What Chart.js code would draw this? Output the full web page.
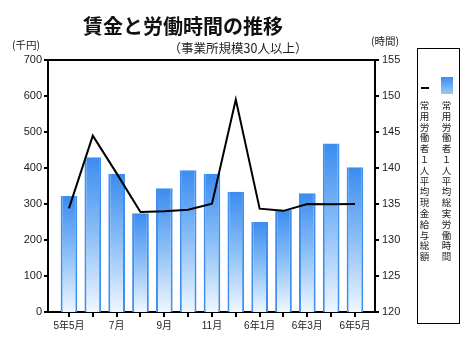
<!DOCTYPE html>
<html lang="ja">
<head>
<meta charset="utf-8">
<script src="https://cdn.jsdelivr.net/npm/chart.js@4.4.1/dist/chart.umd.min.js"></script>
<style>
  html, body { margin: 0; padding: 0; background: #fff; }
  #wrap { position: relative; width: 474px; height: 353px; overflow: hidden; font-family: 'Noto Sans CJK JP', sans-serif; color: #222; }
  canvas { position: absolute; left: 0; top: 0; }
  .lbl { position: absolute; white-space: nowrap; line-height: 1; }
  #title { left: 0; width: 366px; top: 16px; text-align: center; font-size: 20px; font-weight: bold; color: #111; }
  #subtitle { left: 106px; width: 264px; top: 42px; text-align: center; font-size: 12.5px; }
  #unitL { left: 12px; top: 40px; font-size: 10.5px; }
  #unitR { left: 371px; top: 36px; font-size: 10.5px; }
  #legend { position: absolute; left: 417px; top: 48px; width: 41px; height: 274px; border: 1px solid #000; }
  .sw-line { position: absolute; left: 3px; top: 38px; width: 8px; height: 2px; background: #000; }
  .sw-bar { position: absolute; left: 23px; top: 28px; width: 12px; height: 17px; background: linear-gradient(#3b8df0, #9cc8f8); }
  .col { position: absolute; top: 51px; width: 11px; font-size: 9.5px; line-height: 10.8px; text-align: center; word-break: break-all; color: #222; }
</style>
</head>
<body>
<div id="wrap">
  <canvas id="chart" width="474" height="353"></canvas>
  <div class="lbl" id="title">賃金と労働時間の推移</div>
  <div class="lbl" id="subtitle">（事業所規模30人以上）</div>
  <div class="lbl" id="unitL">(千円)</div>
  <div class="lbl" id="unitR">(時間)</div>
  <div id="legend">
    <div class="sw-line"></div>
    <div class="sw-bar"></div>
    <div class="col" style="left: 1px;">常用労働者１人平均現金給与総額</div>
    <div class="col" style="left: 23px;">常用労働者１人平均総実労働時間</div>
  </div>
</div>
<script>
// months (every other one is labelled on the axis)
const months = ['5年5月', '6月', '7月', '8月', '9月', '10月', '11月', '12月', '6年1月', '2月', '6年3月', '4月', '6年5月'];
// 総実労働時間 (時間) - bars, right axis
const hours = [136.1, 141.5, 139.2, 133.7, 137.2, 139.7, 139.2, 136.7, 132.5, 134.2, 136.5, 143.4, 140.1];
// 現金給与総額 (千円) - line, left axis
const wages = [288, 490, 385, 278, 280, 284, 301, 590, 287, 281, 300, 299, 300];
const wageTicks = [0, 700, 100];   // min, max, step
const hourTicks = [120, 155, 5];

const xMin = -0.88, xMax = 12.84;
const tickFont = { family: "'Liberation Sans', 'Noto Sans CJK JP', sans-serif", size: 11 };

function barFill(ctx) {
    const chart = ctx.chart;
    const area = chart.chartArea;
    if (!area || ctx.type !== 'data') return '#4a96ec';
    const top = chart.scales.y1.getPixelForValue(ctx.parsed.y);
    const g = chart.ctx.createLinearGradient(0, top, 0, area.bottom);
    g.addColorStop(0, '#3a8cf0');
    g.addColorStop(0.5, '#8cbff7');
    g.addColorStop(1, '#f0f7ff');
    return g;
}

// one tick per month
const monthTicks = (s) => { s.ticks = months.map((m, i) => ({ value: i })); };

new Chart(document.getElementById('chart'), {
    data: {
        datasets: [{
            type: 'line',
            label: '常用労働者１人平均現金給与総額',
            data: wages.map((v, i) => ({ x: i, y: v })),
            yAxisID: 'y',
            borderColor: '#000',
            borderWidth: 2,
            pointRadius: 0,
            tension: 0,
            order: 0
        }, {
            type: 'bar',
            label: '常用労働者１人平均総実労働時間',
            data: hours.map((v, i) => ({ x: i, y: v })),
            yAxisID: 'y1',
            backgroundColor: barFill,
            borderColor: '#3f8fee',
            borderWidth: { top: 0, left: 2, right: 2, bottom: 0 },
            borderSkipped: false,
            categoryPercentage: 1,
            barPercentage: 0.7,
            order: 1
        }]
    },
    options: {
        responsive: false,
        animation: false,
        devicePixelRatio: 1,
        layout: { padding: { top: 60, right: 59, bottom: 21, left: 0 } },
        plugins: { legend: { display: false }, tooltip: { enabled: false } },
        scales: {
            x: {
                type: 'linear',
                position: 'bottom',
                min: xMin,
                max: xMax,
                offset: false,
                afterBuildTicks: monthTicks,
                afterFit: (s) => { s.height = 20; },
                ticks: {
                    stepSize: 1,
                    includeBounds: true,
                    autoSkip: false,
                    maxRotation: 0,
                    padding: 3,
                    color: '#222',
                    font: { family: tickFont.family, size: 10 },
                    callback: (v) => (v % 2 === 0 ? months[v] : '')
                },
                grid: { offset: false, drawOnChartArea: false, drawTicks: true, tickLength: 5, color: '#000', tickColor: '#000', tickWidth: 2, lineWidth: 2 },
                border: { color: '#000', width: 2 }
            },
            xTop: {
                type: 'linear',
                position: 'top',
                min: xMin,
                max: xMax,
                offset: false,
                afterFit: (s) => { s.height = 0; },
                ticks: { display: false },
                grid: { display: false },
                border: { color: '#000', width: 2 }
            },
            y: {
                position: 'left',
                min: wageTicks[0],
                max: wageTicks[1],
                afterFit: (s) => { s.width = 48; },
                ticks: { stepSize: wageTicks[2], padding: 2, color: '#222', font: tickFont },
                grid: { drawOnChartArea: false, drawTicks: true, tickLength: 4, color: '#000', lineWidth: 2 },
                border: { color: '#000', width: 2 }
            },
            y1: {
                position: 'right',
                min: hourTicks[0],
                max: hourTicks[1],
                afterFit: (s) => { s.width = 40; },
                ticks: { stepSize: hourTicks[2], padding: 3, color: '#222', font: tickFont },
                grid: { drawOnChartArea: false, drawTicks: true, tickLength: 4, color: '#000', lineWidth: 2 },
                border: { color: '#000', width: 2 }
            }
        }
    }
});
</script>
</body>
</html>
